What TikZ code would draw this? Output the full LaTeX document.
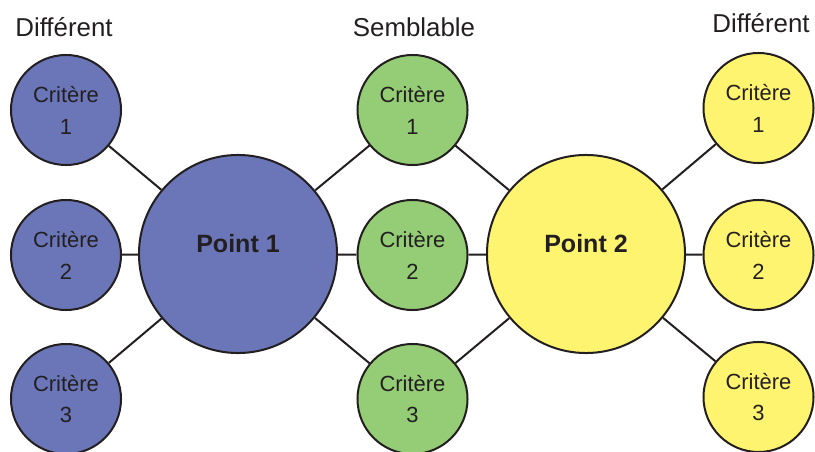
\documentclass[tikz,border=0pt]{standalone}
\usepackage{fontspec}
\setmainfont{Liberation Sans}
\usepackage{xcolor}
\usepackage{tikz}

\definecolor{critblue}{HTML}{6B76B9}
\definecolor{critgreen}{HTML}{94CD76}
\definecolor{crityellow}{HTML}{FFF46F}
\definecolor{edgedark}{HTML}{231F20}

\begin{document}
\begin{tikzpicture}[x=0.025cm, y=-0.025cm,
    crit/.style={circle, draw=edgedark, line width=0.05cm, minimum size=2.75cm, inner sep=0pt, align=center, text=edgedark, font=\fontsize{15.6}{22.7}\selectfont},
    point/.style={circle, draw=edgedark, line width=0.05cm, minimum size=4.95cm, inner sep=0pt,
        label={[text=edgedark, font=\fontsize{17.8}{20}\selectfont\bfseries, yshift=0.25cm]center:#1}},
    head/.style={anchor=base, text=edgedark, font=\fontsize{18.4}{20}\selectfont},
    link/.style={draw=edgedark, line width=0.05cm}]
    \useasboundingbox (0,0) rectangle (815,452);

    % Column titles
    \node[head] (hleft) at (64,37) {Différent};
    \node[head] (hmid) at (414,37) {Semblable};
    \node[head] (hright) at (761,33) {Différent};

    % The two points
    \node[point={Point 1}, fill=critblue] (p1) at (238,254) {};
    \node[point={Point 2}, fill=crityellow] (p2) at (586,254) {};

    % Criteria of point 1 only
    \node[crit, fill=critblue] (l1) at (66,110) {Critère\\1};
    \node[crit, fill=critblue] (l2) at (66,255) {Critère\\2};
    \node[crit, fill=critblue] (l3) at (66,399) {Critère\\3};

    % Shared criteria
    \node[crit, fill=critgreen] (m1) at (412.5,110) {Critère\\1};
    \node[crit, fill=critgreen] (m2) at (412.5,255) {Critère\\2};
    \node[crit, fill=critgreen] (m3) at (412.5,399) {Critère\\3};

    % Criteria of point 2 only
    \node[crit, fill=crityellow] (r1) at (758.5,108) {Critère\\1};
    \node[crit, fill=crityellow] (r2) at (758.5,255) {Critère\\2};
    \node[crit, fill=crityellow] (r3) at (758.5,397) {Critère\\3};

    % Connectors
    \foreach \c in {l1,l2,l3,m1,m2,m3}
        \draw[link] (p1) -- (\c);
    \foreach \c in {m1,m2,m3,r1,r2,r3}
        \draw[link] (p2) -- (\c);
\end{tikzpicture}
\end{document}
